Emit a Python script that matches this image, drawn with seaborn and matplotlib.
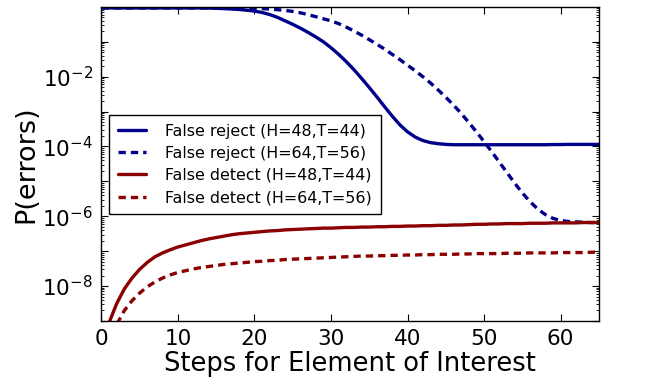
import numpy as np
import pandas as pd
import matplotlib
matplotlib.use("Agg")
import matplotlib.pyplot as plt
from matplotlib.ticker import FixedLocator, LogLocator, NullFormatter, FuncFormatter
import seaborn as sns

# x: steps for element of interest
steps = list(range(0, 66))

# log10 of P(errors) at each integer step
fr48_log10 = [-0.03] * 14 + [
    -0.035, -0.04, -0.05, -0.06, -0.075, -0.095, -0.12, -0.16, -0.22, -0.3,   # 14-23
    -0.4, -0.5, -0.61, -0.73, -0.86, -1.0, -1.17, -1.36, -1.57, -1.8,         # 24-33
    -2.05, -2.31, -2.58, -2.86, -3.13, -3.38, -3.58, -3.73, -3.83, -3.89,     # 34-43
    -3.92, -3.94, -3.95, -3.95, -3.95, -3.95, -3.95, -3.95, -3.95, -3.95,     # 44-53
    -3.95, -3.95, -3.95, -3.95, -3.95, -3.945, -3.945, -3.94, -3.94, -3.94,   # 54-63
    -3.94, -3.94,                                                             # 64-65
]
fr64_log10 = [-0.03] * 18 + [
    -0.035, -0.04, -0.045, -0.05, -0.06, -0.08, -0.1, -0.13, -0.17, -0.22,    # 18-27
    -0.28, -0.34, -0.4, -0.48, -0.58, -0.69, -0.81, -0.94, -1.07, -1.21,      # 28-37
    -1.36, -1.51, -1.67, -1.83, -2.0, -2.18, -2.38, -2.59, -2.81, -3.05,      # 38-47
    -3.31, -3.58, -3.86, -4.15, -4.45, -4.75, -5.05, -5.33, -5.58, -5.79,     # 48-57
    -5.95, -6.06, -6.12, -6.15, -6.16, -6.17, -6.18, -6.18,                   # 58-65
]
fd48_log10 = [
    -10.5, -9.05, -8.5, -8.08, -7.77, -7.52, -7.32, -7.16, -7.05, -6.96,      # 0-9
    -6.88, -6.82, -6.76, -6.7, -6.65, -6.61, -6.57, -6.53, -6.5, -6.48,       # 10-19
    -6.46, -6.44, -6.42, -6.41, -6.39, -6.38, -6.37, -6.36, -6.35, -6.34,     # 20-29
    -6.34, -6.33, -6.32, -6.32, -6.31, -6.31, -6.3, -6.3, -6.29, -6.29,       # 30-39
    -6.28, -6.28, -6.27, -6.27, -6.26, -6.26, -6.25, -6.25, -6.24, -6.23,     # 40-49
    -6.23, -6.22, -6.22, -6.21, -6.21, -6.21, -6.2, -6.2, -6.2, -6.19,        # 50-59
    -6.19, -6.19, -6.19, -6.18, -6.18, -6.18,                                 # 60-65
]
fd64_log10 = [
    -11.0, -10.0, -9.1, -8.7, -8.42, -8.2, -8.02, -7.88, -7.77, -7.68,        # 0-9
    -7.61, -7.56, -7.51, -7.47, -7.44, -7.41, -7.38, -7.36, -7.34, -7.32,     # 10-19
    -7.3, -7.29, -7.27, -7.26, -7.24, -7.23, -7.22, -7.21, -7.2, -7.19,       # 20-29
    -7.18, -7.17, -7.16, -7.15, -7.14, -7.14, -7.13, -7.13, -7.12, -7.12,     # 30-39
    -7.11, -7.11, -7.1, -7.1, -7.09, -7.09, -7.09, -7.08, -7.08, -7.07,       # 40-49
    -7.07, -7.07, -7.07, -7.06, -7.06, -7.06, -7.05, -7.05, -7.05, -7.05,     # 50-59
    -7.04, -7.04, -7.04, -7.04, -7.03, -7.03,                                 # 60-65
]

labels = [
    "False reject (H=48,T=44)",
    "False reject (H=64,T=56)",
    "False detect (H=48,T=44)",
    "False detect (H=64,T=56)",
]
series_log10 = [fr48_log10, fr64_log10, fd48_log10, fd64_log10]
colors = ["#00008B", "#00008B", "#8B0000", "#8B0000"]
dashed = [False, True, False, True]

sns.set_theme(style="ticks")
plt.rcParams["font.family"] = ["DejaVu Sans"]
plt.rcParams["mathtext.default"] = "regular"
for k in ["text.color", "axes.labelcolor", "xtick.color", "ytick.color", "axes.edgecolor"]:
    plt.rcParams[k] = "black"

fig = plt.figure(figsize=(6.46, 3.83), dpi=100)
ax = fig.add_axes([0.157, 0.162, 0.770, 0.820])

for lab, vals, col, dsh in zip(labels, series_log10, colors, dashed):
    df = pd.DataFrame({"step": steps, "p": np.power(10.0, np.array(vals))})
    sns.lineplot(data=df, x="step", y="p", ax=ax, color=col, lw=2.4,
                 label=lab, legend=False)
    l = ax.lines[-1]
    if dsh:
        l.set_dashes((2.2, 1.5))

ax.set_yscale("log")
ax.set_xlim(0, 65)
ax.set_ylim(1e-9, 1)

ax.set_xticks([0, 10, 20, 30, 40, 50, 60])
ax.yaxis.set_major_locator(FixedLocator([10.0 ** e for e in range(-9, 0)]))
def fmt(v, pos):
    e = int(round(np.log10(v)))
    return r"$10^{%d}$" % e if e % 2 == 0 else ""
ax.yaxis.set_major_formatter(FuncFormatter(fmt))
ax.yaxis.set_minor_locator(LogLocator(base=10, subs=np.arange(2, 10), numticks=100))
ax.yaxis.set_minor_formatter(NullFormatter())

ax.tick_params(which="both", direction="in", top=True, right=True, color="black",
               labelcolor="black")
ax.tick_params(which="major", length=5, width=0.8, labelsize=15.5, pad=6)
ax.tick_params(which="minor", length=2.5, width=0.6)
for s in ax.spines.values():
    s.set_color("black")
    s.set_linewidth(1.0)

ax.set_xlabel("Steps for Element of Interest", fontsize=18.5, labelpad=1, color="black")
ax.set_ylabel("P(errors)", fontsize=19.5, labelpad=2, color="black")

leg = ax.legend(loc="center left", bbox_to_anchor=(0.015, 0.4985), fontsize=11.4,
                frameon=True, fancybox=False, edgecolor="black", framealpha=1,
                handlelength=1.8, handletextpad=1.2, borderaxespad=0,
                labelspacing=0.45, borderpad=0.55)
leg.get_frame().set_linewidth(1.0)
for t in leg.get_texts():
    t.set_color("black")

fig.savefig("out.png", dpi=100)
